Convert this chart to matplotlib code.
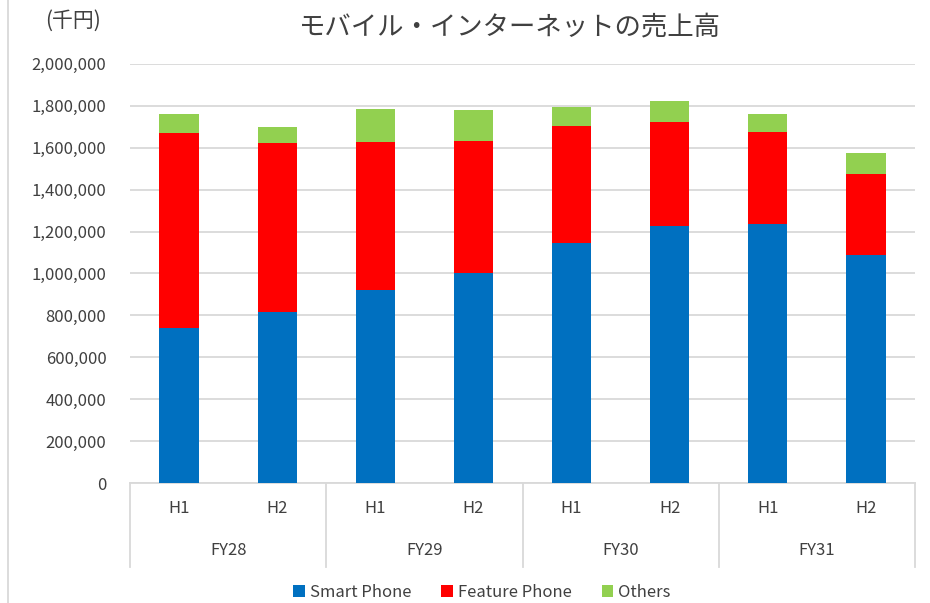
import matplotlib
matplotlib.use("Agg")
import matplotlib.pyplot as plt
import numpy as np
from matplotlib.lines import Line2D
from matplotlib.ticker import FuncFormatter

plt.rcParams['font.family'] = ['Noto Sans CJK JP', 'DejaVu Sans']

# data (千円)
years = ["FY28", "FY29", "FY30", "FY31"]
halves = ["H1", "H2"]
smart_phone = [741000, 818000, 923000, 1004000, 1144000, 1228000, 1235000, 1087000]
feature_phone = [928000, 803000, 705000, 630000, 560000, 494000, 439000, 388000]
others = [94000, 77000, 157000, 145000, 89000, 100000, 89000, 100000]
series_names = ["Smart Phone", "Feature Phone", "Others"]
colors = ["#0070C0", "#FF0000", "#92D050"]

fig = plt.figure(figsize=(9.3, 6.03), dpi=100)
ax = fig.add_axes([0.1398, 0.199, 0.8441, 0.695])

x = np.arange(len(smart_phone))
bottom = np.zeros(len(x))
for vals, name, c in zip([smart_phone, feature_phone, others], series_names, colors):
    ax.bar(x, vals, width=0.4, bottom=bottom, color=c, label=name, zorder=3)
    bottom += np.array(vals)

ax.set_xlim(-0.5, len(x) - 0.5)
ax.set_ylim(0, 2000000)
ax.set_yticks(np.arange(0, 2000001, 200000))
ax.yaxis.set_major_formatter(FuncFormatter(lambda v, p: f"{int(v):,}"))
ax.tick_params(axis='y', length=0, pad=17, labelsize=12, labelcolor="#404040")
ax.set_xticks([])
ax.grid(axis='y', color="#d9d9d9", linewidth=1.3, zorder=0)
for s in ["top", "right", "left"]:
    ax.spines[s].set_visible(False)
ax.spines["bottom"].set_color("#d9d9d9")
ax.spines["bottom"].set_linewidth(1.3)

# hierarchical category labels
trans = ax.get_xaxis_transform()
for i in range(len(x)):
    ax.text(x[i], -0.06, halves[i % 2], transform=trans, ha='center', va='center',
            fontsize=12, color="#404040")
for j, yr in enumerate(years):
    ax.text(2 * j + 0.5, -0.16, yr, transform=trans, ha='center', va='center',
            fontsize=12, color="#404040")
for k in range(len(years) + 1):
    ax.add_line(Line2D([2 * k - 0.5, 2 * k - 0.5], [0, -0.2], transform=trans,
                       color="#d9d9d9", linewidth=1.3, clip_on=False))

fig.text(0.079, 0.965, "(千円)", ha='center', va='center',
         fontsize=15, color="#404040")
fig.text(0.548, 0.955, "モバイル・インターネットの売上高", ha='center', va='center',
         fontsize=19, color="#404040")

fig.legend(loc='center', bbox_to_anchor=(0.518, 0.018), ncol=3, frameon=False,
           fontsize=12, handlelength=0.7, handleheight=0.7, handletextpad=0.3,
           columnspacing=1.8, labelcolor="#404040")

fig.add_artist(Line2D([0.009, 0.009], [0, 1], transform=fig.transFigure,
                      color="#d9d9d9", linewidth=1.3))

fig.savefig("out.png", dpi=100)
